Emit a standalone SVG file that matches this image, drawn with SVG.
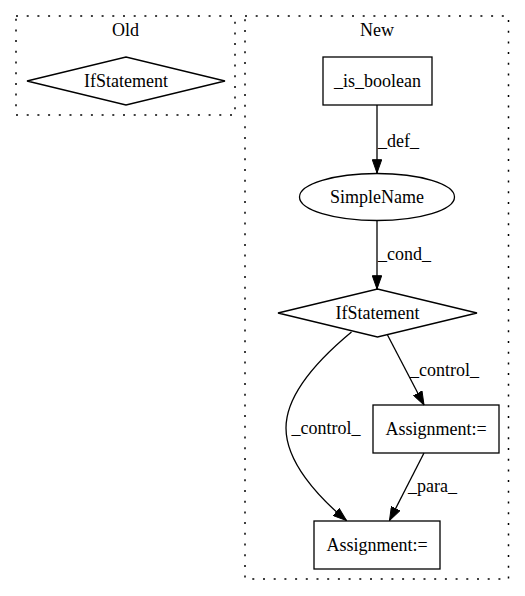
<svg xmlns="http://www.w3.org/2000/svg" width="525" height="596" viewBox="0 0 525 596">
<style>
text { font-family: "Liberation Serif", "Times New Roman", serif; font-size: 18px; fill: #000; }
.c { text-anchor: middle; }
.cluster { fill: none; stroke: #000; stroke-width: 1.5; stroke-dasharray: 2 8.7; }
.node { fill: #fff; stroke: #000; stroke-width: 1.3; }
.edge { fill: none; stroke: #000; stroke-width: 1.3; marker-end: url(#arrow); }
</style>
<defs>
<marker id="arrow" markerUnits="userSpaceOnUse" viewBox="0 0 14 10" markerWidth="14" markerHeight="10" refX="13.6" refY="5" orient="auto">
<path d="M0.3,0.3 L13.6,5 L0.3,9.7 Z" fill="#000" stroke="#000" stroke-width="1"/>
</marker>
</defs>
<rect width="525" height="596" fill="#fff"/>
<g id="cluster_old">
<rect class="cluster" x="16" y="16" width="219" height="99"/>
<text class="c" x="125.5" y="35.5">Old</text>
</g>
<g id="cluster_new">
<rect class="cluster" x="245" y="16" width="263.5" height="563"/>
<text class="c" x="377" y="35.5">New</text>
</g>
<g id="old_ifstatement">
<polygon class="node" points="27,81 126,57 225,81 126,105"/>
<text class="c" x="126" y="87">IfStatement</text>
</g>
<g id="is_boolean">
<rect class="node" x="323" y="57" width="109" height="48"/>
<text class="c" x="377.5" y="87">_is_boolean</text>
</g>
<g id="simplename">
<ellipse class="node" cx="377" cy="197" rx="77.5" ry="23.5"/>
<text class="c" x="377" y="203">SimpleName</text>
</g>
<g id="new_ifstatement">
<polygon class="node" points="278,313 377.5,289 477,313 377.5,337"/>
<text class="c" x="377.5" y="319">IfStatement</text>
</g>
<g id="assignment_right">
<rect class="node" x="373" y="405" width="126" height="48"/>
<text class="c" x="436" y="435">Assignment:=</text>
</g>
<g id="assignment_bottom">
<rect class="node" x="314" y="521" width="126" height="48"/>
<text class="c" x="377" y="551">Assignment:=</text>
</g>
<g id="connectors">
<path class="edge" d="M377,105 L377,173"/>
<text x="378" y="146.5">_def_</text>
<path class="edge" d="M377,221 L377,289"/>
<text x="378" y="259.5">_cond_</text>
<path class="edge" d="M387.5,335 L424,405"/>
<text x="410" y="376">_control_</text>
<path class="edge" d="M351.5,332 C331,349 286,388 286,428 C286,462 318,497 346.5,520.5"/>
<text x="291.5" y="434">_control_</text>
<path class="edge" d="M424,453 L389.5,520.5"/>
<text x="408" y="492">_para_</text>
</g>
</svg>
